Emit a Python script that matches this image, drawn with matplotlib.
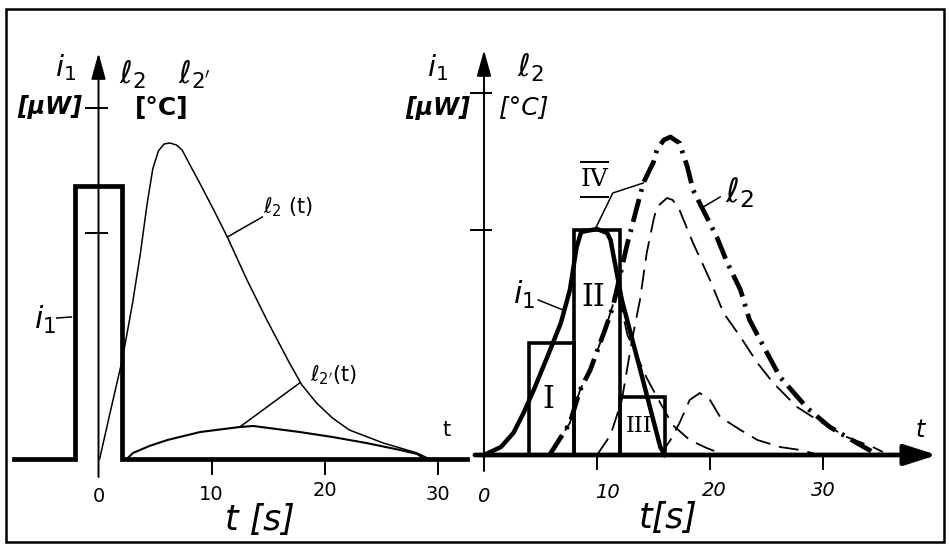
import matplotlib.pyplot as plt
from matplotlib.patches import Rectangle

plt.rcParams['font.family'] = ['DejaVu Sans']
plt.rcParams['mathtext.fontset'] = 'dejavusans'

W, H = 949, 547

# --- single pulse (left) ---
pulse_t = [-7.5, -2.1, -2.1, 2.1, 2.1, 32.6]
pulse_i = [0, 0, 27.3, 27.3, 0, 0]

l2_t = [0.1, 1.0, 2.1, 3.0, 3.7, 4.3, 4.8, 5.3, 5.8, 6.3, 6.9, 7.4, 8.1, 9.0,
        10.2, 11.4, 13.1, 14.9, 16.9, 18.0, 19.3, 20.7, 22.2, 25.2, 28.2, 29.3]
l2_y = [0, 4.5, 9.9, 15.5, 20.5, 25.5, 29.0, 30.8, 31.5, 31.6, 31.4, 30.9, 29.4, 27.5,
        24.9, 22.2, 18.0, 13.9, 9.6, 7.4, 5.6, 4.1, 2.9, 1.6, 0.6, 0]

l2p_t = [2.5, 3.05, 4.5, 6.1, 9.0, 12.5, 13.7, 17.8, 20.7, 23.7, 26.7, 28.2, 28.9]
l2p_y = [0, 0.6, 1.3, 1.9, 2.7, 3.2, 3.3, 2.7, 2.2, 1.6, 0.9, 0.5, 0]

# --- pulse split into blocks (right) ---
i1_t = [0, 1.5, 2.6, 3.5, 4.4, 5.6, 6.8, 7.6, 8.2, 8.6, 10.0, 10.9, 11.2, 12.2,
        13.9, 15.6, 16.0]
i1_y = [0, 0.8, 2.2, 4.2, 6.5, 9.8, 13.2, 16.5, 20.8, 22.3, 22.6, 22.2, 21.5, 15.5,
        8.2, 0.8, 0]

block_left = [4, 8, 12]
block_width = [4, 4, 4]
block_height = [11.2, 22.5, 5.8]
block_names = ['I', 'II', 'III']

sum_t = [5.8, 7.6, 8.5, 9.4, 10.7, 11.4, 12.7, 14.1, 15.0, 15.3, 15.9, 16.5, 17.3,
         18.0, 18.5, 20.6, 21.5, 22.7, 23.5, 25.0, 26.2, 28.6, 30.6, 33.0, 34.4, 35.0]
sum_y = [0, 3.2, 6.5, 8.5, 12.5, 14.8, 21.2, 27.2, 29.3, 30.5, 31.5, 31.8, 31.2,
         28.8, 26.5, 21.8, 19.3, 16.5, 13.5, 10.3, 7.8, 4.7, 2.8, 1.2, 0.3, 0]

r1_t = [5.8, 7.6, 8.5, 9.4, 10.7, 11.4, 11.9, 12.7, 14.4, 15.6, 16.7, 18.2, 19.7, 21.3]
r1_y = [0, 3.2, 6.5, 8.5, 12.5, 15.0, 16.0, 12.0, 7.7, 5.2, 3.0, 1.5, 0.7, 0]

r2_t = [10.0, 11.2, 12.2, 13.1, 13.8, 14.4, 15.0, 15.3, 16.2, 16.7, 17.3, 18.5, 20.0,
        21.2, 22.7, 24.2, 25.6, 27.7, 29.5, 32.1, 34.4, 35.3]
r2_y = [0, 2.0, 5.5, 11.5, 15.5, 20.2, 23.5, 24.8, 25.7, 25.5, 24.5, 21.2, 17.5,
        14.2, 11.8, 9.2, 7.2, 4.8, 3.5, 1.8, 0.8, 0.3]

r3_t = [15.6, 16.5, 17.3, 18.2, 19.1, 20.0, 20.9, 22.7, 24.2, 26.2, 28.0, 29.7]
r3_y = [0, 1.5, 3.2, 5.5, 6.2, 5.5, 3.8, 2.5, 1.5, 0.8, 0.5, 0]

xticks = [0, 10, 20, 30]


def panel(fig, px0, px1, py0, py1, t0, base, sx=11.3, sy=10.0):
    """Axes whose data units map to a fixed pixel scale."""
    ax = fig.add_axes([px0 / W, 1 - py1 / H, (px1 - px0) / W, (py1 - py0) / H])
    ax.set_xlim((px0 - t0) / sx, (px1 - t0) / sx)
    ax.set_ylim((base - py1) / sy, (base - py0) / sy)
    ax.axis('off')
    ax.patch.set_alpha(0)
    return ax


fig = plt.figure(figsize=(W / 100, H / 100), dpi=100)
fig.patches.append(Rectangle((6 / W, 1 - 542 / H), 938 / W, 533 / H, fill=False,
                             lw=1.8, ec='black', transform=fig.transFigure))

k = 'black'
arrow_v = dict(arrowstyle='-|>,head_length=0.8,head_width=0.22', lw=1.4, color=k,
               mutation_scale=20, shrinkA=0, shrinkB=0)

# ================= left panel =================
ax = panel(fig, 12, 472, 30, 535, 98.5, 459)
ax.plot(pulse_t, pulse_i, color=k, lw=3.4, solid_joinstyle='miter')
ax.plot(l2_t, l2_y, color=k, lw=1.1)
ax.plot(l2p_t, l2p_y, color=k, lw=1.5)
ax.annotate('', xy=(0, 40.6), xytext=(0, -1.8), arrowprops=arrow_v)
ax.vlines(xticks[1:], -1.6, 0, color=k, lw=1.4)
ax.hlines([22.6, 35.1], -1.2, 0.85, color=k, lw=1.4)
for x, y in zip(xticks, [-3.8, -3.5, -3.1, -3.6]):
    ax.text(x, y, str(x), ha='center', va='center', fontsize=14)
ax.text(14.3, -6.1, 't [s]', ha='center', va='center', fontsize=25, style='italic')
ax.text(30.8, 2.9, 't', ha='center', va='center', fontsize=15)

ax.text(-2.96, 39.1, '$i_1$', ha='center', va='center', fontsize=21)
ax.text(-4.3, 35.2, '[μW]', ha='center', va='center', fontsize=17, style='italic',
        fontweight='bold')
ax.text(2.96, 38.4, r'$\ell_2$', ha='center', va='center', fontsize=22)
ax.text(8.45, 38.4, r"$\ell_{2'}$", ha='center', va='center', fontsize=22)
ax.text(5.6, 35.1, '[°C]', ha='center', va='center', fontsize=18, fontweight='bold')

ax.plot([11.4, 14.5], [22.2, 24.2], color=k, lw=1.1)
ax.text(14.6, 25.2, r'$\ell_2$ (t)', ha='left', va='center', fontsize=15)
ax.plot([12.5, 17.8], [3.2, 7.6], color=k, lw=1.1)
ax.text(18.7, 8.4, r"$\ell_{2'}$(t)", ha='left', va='center', fontsize=15)
ax.plot([-3.7, -2.4], [14.1, 14.2], color=k, lw=1.1)
ax.text(-4.7, 13.9, '$i_1$', ha='center', va='center', fontsize=22, style='italic')

# ================= right panel =================
ax = panel(fig, 400, 946, 30, 535, 484, 455)
ax.annotate('', xy=(40.1, 0), xytext=(-0.8, 0),
            arrowprops=dict(arrowstyle='-|>,head_length=1.1,head_width=0.35', lw=3.4,
                            color=k, mutation_scale=18, shrinkA=0, shrinkB=0))
ax.annotate('', xy=(0, 40.5), xytext=(0, -1.6), arrowprops=arrow_v)
ax.vlines(xticks[1:], -1.5, 0, color=k, lw=1.4)
ax.hlines([22.5, 36.2], -1.24, 0.7, color=k, lw=1.4)
for x, lx, y in zip(xticks, [-0.1, 10.9, 20.4, 30.0], [-4.2, -3.8, -3.5, -3.5]):
    ax.text(lx, y, str(x), ha='center', va='center', fontsize=14, style='italic')
ax.text(16.3, -6.3, 't[s]', ha='center', va='center', fontsize=25, style='italic')
ax.text(38.6, 2.5, 't', ha='center', va='center', fontsize=17, style='italic')

ax.bar(block_left, block_height, width=block_width, align='edge', fill=False,
       ec=k, lw=2.6)
ax.plot(i1_t, i1_y, color=k, lw=3.2)
ax.plot(r1_t, r1_y, color=k, lw=1.3, ls=(0, (11, 5)))
ax.plot(r2_t, r2_y, color=k, lw=1.3, ls=(0, (11, 5)))
ax.plot(r3_t, r3_y, color=k, lw=1.3, ls=(0, (11, 5)))
ax.plot(sum_t, sum_y, color=k, lw=3.4, ls=(0, (5, 1.6, 0.6, 1.6)))

for x, h, w, name in zip(block_left, block_height, block_width, block_names):
    size = 22 if len(name) < 3 else 16
    y = h / 2 if name != 'II' else 15.8
    ax.text(x + w / 2 - 0.3, y, name, ha='center', va='center', fontsize=size,
            family='DejaVu Serif')

ax.text(-4.1, 38.7, '$i_1$', ha='center', va='center', fontsize=21)
ax.text(-4.1, 34.7, '[μW]', ha='center', va='center', fontsize=17, style='italic',
        fontweight='bold')
ax.text(4.1, 38.7, r'$\ell_2$', ha='center', va='center', fontsize=22)
ax.text(3.5, 34.8, '[°C]', ha='center', va='center', fontsize=18, style='italic')

ax.text(9.8, 27.5, 'IV', ha='center', va='center', fontsize=18, family='DejaVu Serif')
ax.hlines([29.3, 25.8], 8.5, 11.1, color=k, lw=1.4)
ax.plot([9.8, 11.4, 14.1], [22.5, 26.2, 27.2], color=k, lw=1.1)

ax.plot([19.4, 20.9], [24.8, 25.8], color=k, lw=1.1)
ax.text(21.3, 26.2, r'$\ell_2$', ha='left', va='center', fontsize=24)

ax.plot([4.8, 7.0], [15.5, 14.5], color=k, lw=1.1)
ax.text(3.5, 16.0, '$i_1$', ha='center', va='center', fontsize=22)

fig.savefig('out.png', dpi=100)
